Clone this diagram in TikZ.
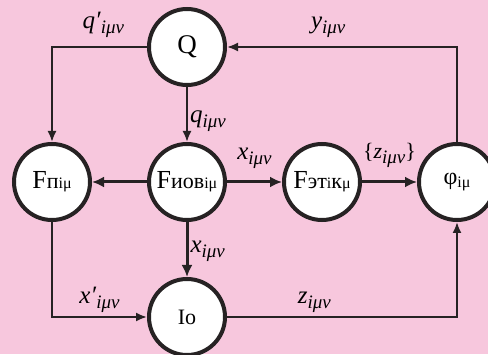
\documentclass[tikz,border=0pt]{standalone}
\usepackage{fontspec}
\setmainfont{Liberation Serif}
\usepackage{xcolor}
\usetikzlibrary{positioning,arrows.meta}
\definecolor{bgpink}{RGB}{247,199,221}
\definecolor{ink}{RGB}{38,34,35}
% index letters inside the circles: big and small parts
\newcommand{\idxbig}[1]{{\fontsize{22}{24}\selectfont #1}}
\newcommand{\idxsml}[1]{{\fontsize{16}{18}\selectfont #1}}
% italic label with lowered index
\newcommand{\lab}[2]{\textit{#1}\raisebox{-5pt}{\fontsize{19}{19}\selectfont\textit{#2}}}

\begin{document}
\begin{tikzpicture}[
    x=1pt, y=1pt,
    font=\fontsize{26}{28}\selectfont,
    node distance=55pt,
    block/.style={
        circle,
        draw=ink,
        fill=white,
        line width=4pt,
        minimum size=76pt,
        inner sep=0pt
    },
    flow/.style={-{Latex[length=12pt,width=11pt]}, draw=ink, line width=3pt},
    link/.style={-{Latex[length=11pt,width=9pt]}, draw=ink, line width=2pt},
    lbl/.style={font=\fontsize{25}{27}\selectfont, inner sep=2pt}
]
\clip (0,0) rectangle (488,354);
\fill[bgpink] (0,0) rectangle (488,354);

\node[block] (fnov) at (187,172) {F\idxbig{иов}\idxsml{iμ}};
\node[block, left=of fnov] (fp) {F\idxbig{п}\idxsml{iμ}};
\node[block, right=of fnov] (fet) {F\idxbig{эт}\idxsml{i}\idxbig{к}\idxsml{μ}};
\node[block, right=of fet] (phi) {\fontsize{24}{26}\selectfont φ\raisebox{-3pt}{\idxsml{iμ}}};
\node[block, above=of fnov, font=\fontsize{27}{29}\selectfont] (q) {Q};
\node[block, below=of fnov, font=\fontsize{22}{24}\selectfont] (io) {Io};

\draw[link] (q) -- node[lbl, right, yshift=-7pt] {\lab{q}{iμν}} (fnov);
\draw[flow] (fnov) -- (fp);
\draw[flow] (fnov) -- node[lbl, above=10pt] {\lab{x}{iμν}} (fet);
\draw[flow] (fet) -- node[lbl, above=11pt, font=\fontsize{22}{24}\selectfont] {\{\lab{z}{iμν}\}} (phi);
\draw[flow] (fnov) -- node[lbl, right, yshift=-2pt] {\lab{x}{iμν}} (io);

\draw[link] (q.west) -| node[lbl, pos=0.23, above=6pt] {\lab{q′}{iμν}} (fp.north);
\draw[link] (phi.north) |- node[lbl, pos=0.78, above=6pt] {\lab{y}{iμν}} (q.east);
\draw[link] (fp.south) |- node[lbl, pos=0.75, above=1pt] {\lab{x′}{iμν}} (io.west);
\draw[link] (io.east) -| node[lbl, pos=0.19, above=1pt] {\lab{z}{iμν}} (phi.south);
\end{tikzpicture}
\end{document}
